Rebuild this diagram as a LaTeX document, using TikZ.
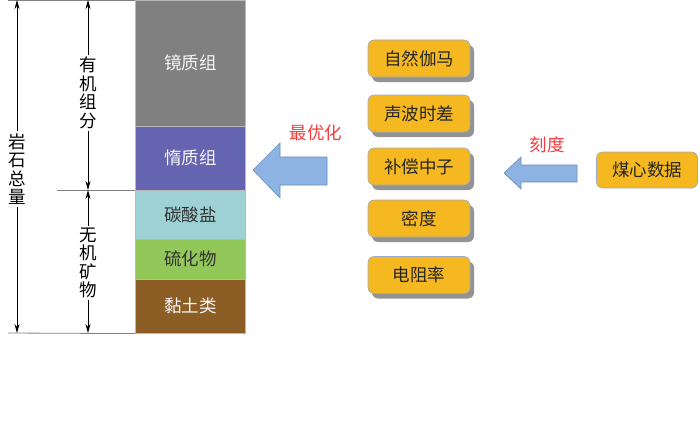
\documentclass[tikz,border=0pt]{standalone}
\usepackage{fontspec}
\setmainfont{Noto Sans CJK SC}
\usetikzlibrary{arrows.meta,shadows}
\definecolor{cgray}{HTML}{808080}
\definecolor{cpurple}{HTML}{6464B0}
\definecolor{ccyan}{HTML}{9ED1D4}
\definecolor{cgreen}{HTML}{92C85A}
\definecolor{cbrown}{HTML}{8C5E26}
\definecolor{corange}{HTML}{F5B820}
\definecolor{cborder}{HTML}{9AAAC8}
\definecolor{carrow}{HTML}{8DB3E2}
\definecolor{carrowb}{HTML}{6A8CBE}
\definecolor{cred}{HTML}{F03C3C}
\begin{document}
\begin{tikzpicture}[x=1pt,y=-1pt,
  every node/.style={font=\fontsize{17.5}{18.5}\selectfont},
  band/.style={draw=gray!55,line width=0.6pt,minimum width=110pt,inner sep=0pt,anchor=north west},
  vtext/.style={align=center,inner sep=2pt},
  dim/.style={black,line width=0.8pt,-{Stealth[length=9pt,width=5pt]}},
  guide/.style={gray,line width=0.8pt},
  obox/.style={draw=cborder,line width=0.6pt,fill=corange,rounded corners=6pt,minimum width=102pt,minimum height=37pt,inner sep=0pt,text=black!85},
  shad/.style={drop shadow={shadow xshift=4pt,shadow yshift=-5pt,fill=gray!85,opacity=1}},
  barrow/.style={draw=carrowb,line width=0.6pt,fill=carrow},
  lbl/.style={text=cred}]
\useasboundingbox (0,0) rectangle (700,436);
% column
\node[band,fill=cgray,minimum height=126pt,text=white!92!gray] (b1) at (135,0) {镜质组};
\node[band,fill=cpurple,minimum height=64pt,text=white!92!gray] (b2) at (135,126) {惰质组};
\node[band,fill=ccyan,minimum height=49pt,text=black!80] (b3) at (135,190) {碳酸盐};
\node[band,fill=cgreen,minimum height=40pt,text=black!80] (b4) at (135,239) {硫化物};
\node[band,fill=cbrown,minimum height=54pt,text=white!92!gray] (b5) at (135,279) {黏土类};
% guide lines
\coordinate (gt) at (8,0.5);
\coordinate (gtr) at (135,0.5);
\coordinate (gm) at (57,190);
\coordinate (gb) at (8,333);
\draw[guide] (gt) -- (gtr);
\draw[guide] (gm) -- (b3.north west);
\draw[guide] (gb) -- (b5.south west);
% dimension arrows
\node[vtext] (t1) at (17,169) {岩\\石\\总\\量};
\node[vtext] (t2) at (88,93) {有\\机\\组\\分};
\node[vtext] (t3) at (88,263) {无\\机\\矿\\物};
\coordinate (a1t) at (17,0);
\coordinate (a1b) at (17,333);
\coordinate (a2t) at (88,0);
\coordinate (a2b) at (88,190);
\coordinate (a3t) at (88,190);
\coordinate (a3b) at (88,333);
\draw[dim] (t1.north) -- (a1t);
\draw[dim] (t1.south) -- (a1b);
\draw[dim] (t2.north) -- (a2t);
\draw[dim] (t2.south) -- (a2b);
\draw[dim] (t3.north) -- (a3t);
\draw[dim] (t3.south) -- (a3b);
% orange boxes
\node[obox,shad] (o1) at (419,58.5) {自然伽马};
\node[obox,shad] (o2) at (419,113.5) {声波时差};
\node[obox,shad] (o3) at (419,166.5) {补偿中子};
\node[obox,shad] (o4) at (419,218.5) {密度};
\node[obox,shad] (o5) at (419,275) {电阻率};
\node[obox,minimum width=101pt,minimum height=36pt] (coal) at (647,170) {煤心数据};
% block arrows
\draw[barrow] (253,170) -- (280,143) -- (280,157) -- (327,157) -- (327,185) -- (280,185) -- (280,198) -- cycle;
\draw[barrow] (504,173) -- (521,157) -- (521,165) -- (577,165) -- (577,182) -- (521,182) -- (521,189) -- cycle;
\node[lbl] (l1) at (316,133) {最优化};
\node[lbl] (l2) at (547,145) {刻度};
\end{tikzpicture}
\end{document}
